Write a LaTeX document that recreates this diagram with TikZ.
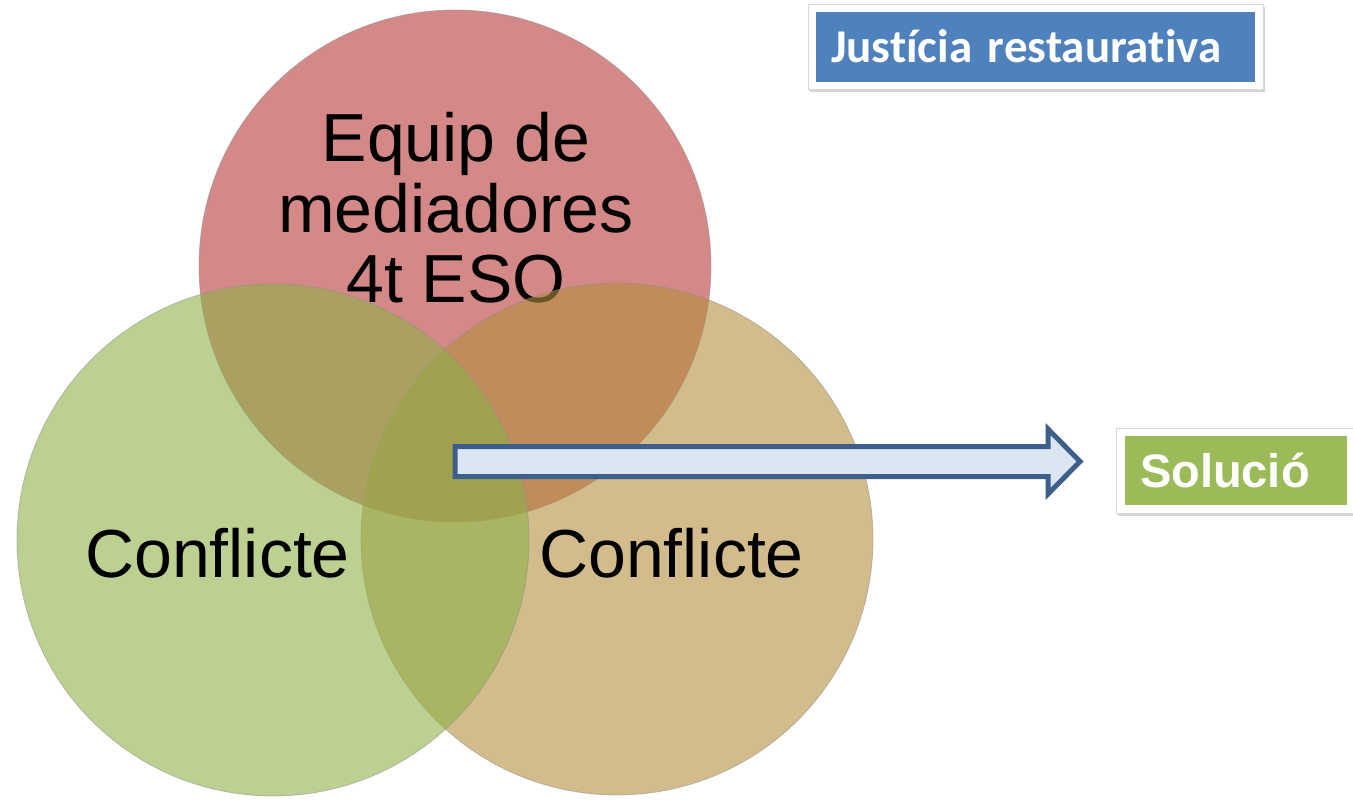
\documentclass[tikz,border=0pt]{standalone}
\usepackage{fontspec}
\setmainfont{Liberation Sans}
\newfontfamily\carlito[RawFeature={-liga}]{Carlito}
\usetikzlibrary{calc,shadows}
\definecolor{rojo}{RGB}{183,57,57}
\definecolor{verde}{RGB}{143,177,72}
\definecolor{tostado}{RGB}{180,143,63}
\definecolor{azul}{RGB}{79,129,189}
\definecolor{verdecaja}{RGB}{155,187,89}
\definecolor{bordeflecha}{RGB}{60,95,140}
\definecolor{rellenoflecha}{RGB}{220,230,242}

\begin{document}
\begin{tikzpicture}[
						x=1pt,
						y=1pt,
						conjunto/.style={circle, minimum size=512pt, inner sep=0pt, fill opacity=0.6, draw=black!45, draw opacity=0.5, line width=0.8pt},
						rotulo/.style={font=\fontsize{68}{70.5}\selectfont, align=center, inner sep=0pt},
						marco/.style={fill=white, draw=black!15, line width=0.6pt, drop shadow={shadow xshift=1.5pt, shadow yshift=-2.5pt, opacity=0.35}},
						etiqueta/.style={text=white, inner xsep=15pt, inner ysep=0pt, align=left}
					]
					\useasboundingbox (0,0) rectangle (1353,-801);

					% circulos y textos
					\node[conjunto, fill=rojo] (equip) at (455,-266) {};
					\node[rotulo] (tequip) at (456,-208) {Equip de\\mediadores\\4t ESO};
					\node[conjunto, fill=tostado] (conf2) at (617,-539) {};
					\node[rotulo, anchor=base] (tconf2) at (671.5,-577) {Conflicte};
					\node[conjunto, fill=verde] (conf1) at (273,-540) {};
					\node[rotulo, anchor=base] (tconf1) at (217.5,-577) {Conflicte};

					% flecha
					\coordinate (inici) at (455,-461.5);
					\coordinate (punta) at (1080,-461.5);
					\draw[bordeflecha, fill=rellenoflecha, line width=5pt, line join=miter]
						($(inici)+(0,15)$) -- ($(punta)+(-32,15)$) -- ($(punta)+(-32,32.5)$) -- (punta)
						-- ($(punta)+(-32,-32.5)$) -- ($(punta)+(-32,-15)$) -- ($(inici)+(0,-15)$) -- cycle;

					% cajas
					\node[marco, minimum width=455pt, minimum height=85pt] (mjust) at (1035.5,-46.5) {};
					\node[etiqueta, fill=azul, minimum width=439pt, minimum height=70pt, text width=409pt,
						font=\carlito\bfseries\fontsize{47}{50}\selectfont] (justicia) at (mjust) {Justícia restaurativa};
					\node[marco, minimum width=240pt, minimum height=85pt] (msol) at (1236,-470.5) {};
					\node[etiqueta, fill=verdecaja, minimum width=222pt, minimum height=69pt, text width=192pt,
						font=\bfseries\fontsize{47}{50}\selectfont] (solucio) at (msol) {Solució};
				\end{tikzpicture}
\end{document}
